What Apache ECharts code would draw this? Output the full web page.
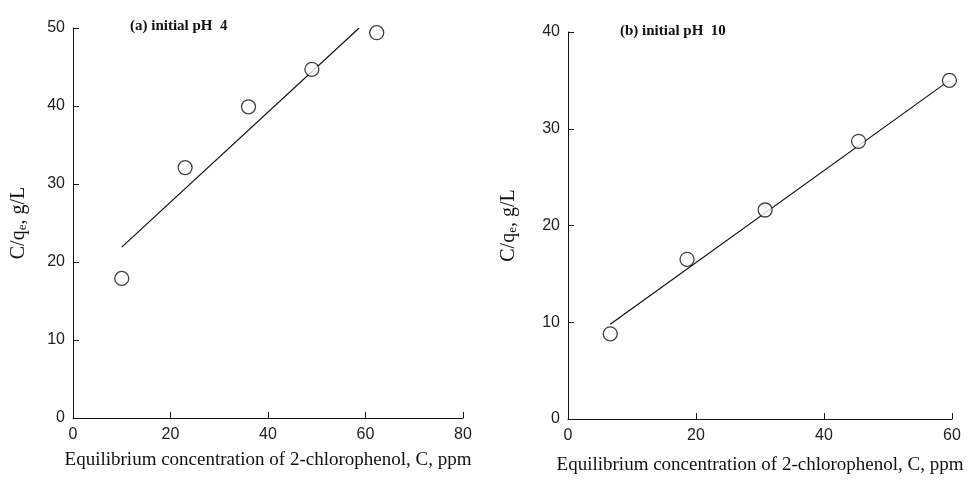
<!DOCTYPE html>
<html lang="en">
  <head>
    <meta charset="UTF-8" />
    <title>C/qe vs C</title>
    <script src="https://cdn.jsdelivr.net/npm/echarts/dist/echarts.min.js"></script>
    <style>
      body {
        margin: 0;
        background: #fff;
      }
      #chart {
        width: 969px;
        height: 481px;
      }
    </style>
  </head>
  <body>
    <div id="chart"></div>

    <script>
      // (a) initial pH 4
      var phA_C = [10.0, 23.0, 36.0, 49.0, 62.3];
      var phA_ratio = [17.9, 32.1, 39.9, 44.7, 49.4];
      var fitA_x = [10.0, 58.7];
      var fitA_y = [21.9, 50.0];

      // (b) initial pH 10
      var phB_C = [6.6, 18.6, 30.8, 45.4, 59.6];
      var phB_ratio = [8.8, 16.5, 21.6, 28.7, 35.0];
      var fitB_x = [6.6, 59.6];
      var fitB_y = [9.8, 35.0];

      var chart = echarts.init(document.getElementById("chart"));

      function pairs(xs, ys) {
        return xs.map((x, i) => [x, ys[i]]);
      }

      var serif = "'Liberation Serif', 'DejaVu Serif', serif";
      var sans = "'Liberation Sans', Arial, sans-serif";

      function xAxisOf(idx, max, gap) {
        return {
          gridIndex: idx,
          type: "value",
          min: 0,
          max: max,
          interval: 20,
          name: "Equilibrium concentration of 2-chlorophenol, C, ppm",
          nameLocation: "middle",
          nameGap: gap,
          nameTextStyle: { fontFamily: serif, fontSize: 19, color: "#111" },
          splitLine: { show: false },
          axisLine: { lineStyle: { color: "#111", width: 1 } },
          axisTick: { inside: true, length: 6, lineStyle: { color: "#111" } },
          axisLabel: { fontFamily: sans, fontSize: 16, color: "#222", margin: 9 },
        };
      }

      function yAxisOf(idx, max, gap) {
        return {
          gridIndex: idx,
          type: "value",
          min: 0,
          max: max,
          interval: 10,
          name: "{n|C/q}{s|e}{n|, g/L}",
          nameLocation: "middle",
          nameGap: gap,
          nameTextStyle: {
            fontFamily: serif,
            fontSize: 20,
            color: "#111",
            rich: {
              n: { fontFamily: serif, fontSize: 20, color: "#111" },
              s: { fontFamily: serif, fontSize: 13, color: "#111", padding: [8, 0, 0, 0] },
            },
          },
          splitLine: { show: false },
          axisLine: { lineStyle: { color: "#111", width: 1 } },
          axisTick: { inside: true, length: 6, lineStyle: { color: "#111" } },
          axisLabel: { fontFamily: sans, fontSize: 16, color: "#222", margin: 8 },
        };
      }

      function seriesOf(idx, xs, ys, fx, fy) {
        return [
          {
            type: "line",
            xAxisIndex: idx,
            yAxisIndex: idx,
            data: pairs(fx, fy),
            showSymbol: false,
            lineStyle: { color: "#111", width: 1.2 },
            z: 1,
          },
          {
            type: "scatter",
            xAxisIndex: idx,
            yAxisIndex: idx,
            data: pairs(xs, ys),
            symbol: "circle",
            symbolSize: 14,
            itemStyle: { color: "#fff", borderColor: "#111", borderWidth: 1.3 },
            z: 3,
          },
        ];
      }

      var option = {
        backgroundColor: "#fff",
        animation: false,
        title: [
          {
            text: "(a) initial pH  4",
            left: 125,
            top: 14,
            textStyle: { fontFamily: serif, fontSize: 15, fontWeight: "bold", color: "#111" },
          },
          {
            text: "(b) initial pH  10",
            left: 615,
            top: 19,
            textStyle: { fontFamily: serif, fontSize: 15, fontWeight: "bold", color: "#111" },
          },
        ],
        grid: [
          { left: 73, top: 28, width: 390, height: 390 },
          { left: 568, top: 32, width: 384, height: 387 },
        ],
        xAxis: [xAxisOf(0, 80, 33), xAxisOf(1, 60, 37)],
        yAxis: [yAxisOf(0, 50, 44), yAxisOf(1, 40, 49)],
        series: seriesOf(0, phA_C, phA_ratio, fitA_x, fitA_y).concat(
          seriesOf(1, phB_C, phB_ratio, fitB_x, fitB_y)
        ),
      };

      chart.setOption(option);
    </script>
  </body>
</html>
